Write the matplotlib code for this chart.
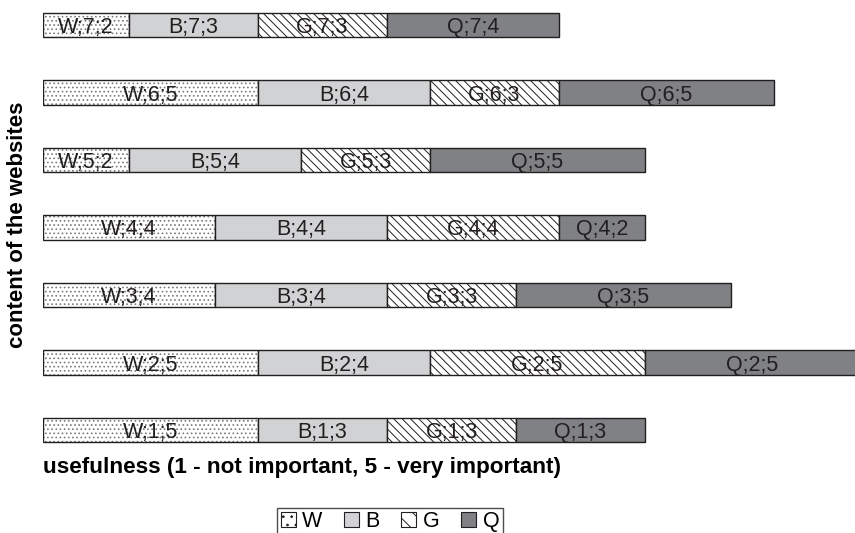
import matplotlib
matplotlib.use("Agg")
from matplotlib import pyplot as plt
import numpy as np

plt.rcParams['font.family'] = ['Liberation Sans', 'DejaVu Sans']
plt.rcParams['hatch.linewidth'] = 0.7

# content rows 1..7 and usefulness ratings per search source
rows = [1, 2, 3, 4, 5, 6, 7]
categories = ['W', 'B', 'G', 'Q']
W = [5, 5, 4, 4, 2, 5, 2]
B = [3, 4, 4, 4, 4, 4, 3]
G = [3, 5, 3, 4, 3, 3, 3]
Q = [3, 5, 5, 2, 5, 5, 4]

series = [W, B, G, Q]
faces = ['white', '#d1d2d4', 'white', '#808184']
hatch_cols = ['#7a7a7a', 'none', '#231f20', 'none']
hatches = ['....', None, '\\\\\\\\', None]

fig = plt.figure(figsize=(8.55, 5.33), dpi=100)
ax = fig.add_axes([43 / 855, 69.25 / 533, 812 / 855, 472.5 / 533])

left = np.zeros(len(rows))
handles = []
for cat, vals, fc, hc, h in zip(categories, series, faces, hatch_cols, hatches):
    vals = np.array(vals)
    ax.barh(rows, vals, left=left, height=0.36, color=fc,
            edgecolor=hc, hatch=h, linewidth=0)
    ax.barh(rows, vals, left=left, height=0.36, fill=False,
            edgecolor='#231f20', linewidth=1.0)
    for r, v, l in zip(rows, vals, left):
        ax.text(l + v / 2, r, f'{cat};{r};{v}', ha='center',
                va='center_baseline', fontsize=15.5, color='#231f20')
    handles.append(plt.Rectangle((0, 0), 1, 1, facecolor=fc,
                                 hatch=('..' if h == '....' else h and '\\\\'),
                                 edgecolor='#231f20', linewidth=0.8))
    left += vals

ax.set_xlim(0, 812 / 43)
ax.set_ylim(0.5, 7.5)
ax.axis('off')

fig.text(18 / 855, 1 - 225 / 533, 'content of the websites', rotation=90,
         ha='center', va='center', fontsize=16, fontweight='bold')
fig.text(43 / 855, 1 - 468 / 533,
         'usefulness (1 - not important, 5 - very important)',
         ha='left', va='center', fontsize=16.2, fontweight='bold')

leg = fig.legend(handles, categories, ncol=4, loc='upper center',
                 bbox_to_anchor=(390 / 855, 1 - 508 / 533), frameon=True,
                 fancybox=False, edgecolor='#231f20', fontsize=15.5,
                 handlelength=0.7, handleheight=0.7, handletextpad=0.3,
                 columnspacing=1.0, borderpad=0.15, borderaxespad=0)
leg.get_frame().set_linewidth(1.0)

fig.savefig('out.png', dpi=100)
